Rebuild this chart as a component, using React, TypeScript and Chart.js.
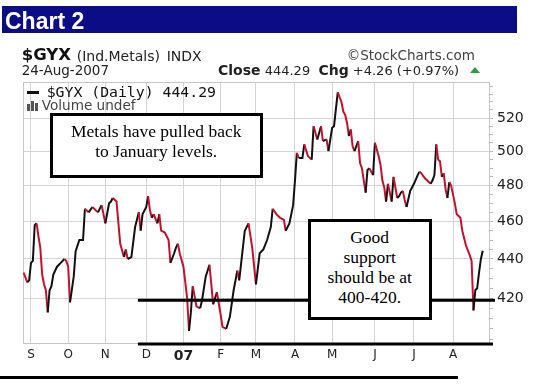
import React, { useEffect, useRef } from "react";
import { Chart, registerables } from "chart.js";

Chart.register(...registerables);

// Trading-day index (0 = 28-Aug-2006) and daily close of $GYX
const DAYS = [
  0, 2, 3, 4, 5, 6, 7, 8, 9, 10, 11, 12, 13, 14, 15, 16, 18, 20, 22, 23, 24, 25, 27, 28, 30, 32, 33, 35, 37, 40,
  42, 44, 46, 47, 48, 49, 50, 52, 54, 55, 56, 58, 60, 62, 63, 64, 66, 67, 68, 69, 70, 72, 73, 74, 76, 78, 79, 81,
  82, 83, 84, 86, 87, 88, 89, 90, 91, 92, 93, 95, 96, 98, 100, 102, 104, 106, 107, 109, 111, 113, 115, 116, 119,
  121, 123, 125, 127, 129, 131, 133, 134, 136, 138, 140, 141, 143, 145, 146, 147, 148, 150, 151, 153, 155, 156,
  158, 160, 161, 163, 164, 166, 167, 169, 171, 172, 173, 174, 175, 176, 177, 178, 180, 181, 182, 184, 185, 186,
  188, 189, 191, 192, 193, 194, 195, 196, 198, 199, 201, 202, 203, 204, 205, 206, 208, 210, 212, 213, 214, 216,
  218, 219, 220, 221, 222, 223, 224, 225, 226, 227, 228, 229, 230, 232, 233, 235, 236, 237, 238, 240, 241, 242,
  243, 244, 245, 246, 247,
];
const CLOSES = [
  433, 428, 429, 438, 439, 458, 459, 452, 446, 432, 427, 424, 413, 424, 426, 432, 436, 438, 440, 439, 436, 418, 431,
  444, 450, 450, 467, 465, 468, 465, 469, 459, 470, 471, 473, 472, 471, 448, 441, 445, 440, 441, 457, 465, 455, 464,
  468, 474, 466, 462, 464, 459, 464, 455, 454, 450, 438, 443, 446, 448, 443, 436, 428, 420, 404, 413, 426, 421, 416,
  415, 419, 431, 437, 417, 423, 412, 406, 405, 411, 424, 434, 429, 455, 459, 446, 427, 443, 445, 450, 457, 467, 464,
  462, 461, 455, 459, 469, 483, 499, 496, 496, 504, 497, 495, 515, 507, 515, 506, 507, 500, 514, 515, 536, 530, 524,
  522, 517, 509, 513, 503, 500, 506, 493, 490, 476, 489, 490, 486, 505, 497, 492, 483, 479, 471, 481, 471, 485, 473,
  474, 476, 477, 472, 468, 477, 481, 486, 488, 487, 484, 482, 481, 483, 486, 504, 495, 494, 485, 487, 478, 473, 482,
  480, 470, 464, 462, 455, 451, 447, 442, 439, 414, 424, 425, 433, 440.03, 444.29,
];

const MONTH_TICK_DAYS = [4, 24, 44, 66, 86, 106, 125, 146, 166, 189, 210, 231];
const MONTH_LABELS = ["S", "O", "N", "D", "07", "F", "M", "A", "M", "J", "J", "A"];
const Y_LABELS = [420, 440, 460, 480, 500, 520];
const Y_MINOR_TICKS = [
  400, 405, 410, 415, 420, 425, 430, 435, 440, 445, 450, 455, 460, 465, 470, 475, 480, 485, 490, 495, 500, 505, 510,
  515, 520, 525, 530, 535, 540,
];
const X_MIN = -0.3;
const X_MAX = 250.9;
const Y_MIN = 398.3;
const Y_MAX = 542.7;
const SUPPORT_LEVEL = 419;
const SUPPORT_FROM_DAY = 61.5;

const UP_COLOR = "#111111";
const DOWN_COLOR = "#c8102e";
const GRID = "#d4d4d4";

const framePlugin = {
  id: "frame",
  beforeDatasetsDraw(chart: any) {
    const { ctx, chartArea: a } = chart;
    ctx.save();
    ctx.strokeStyle = "#c6c6c6";
    ctx.lineWidth = 1;
    ctx.strokeRect(a.left + 0.5, a.top + 0.5, a.right - a.left - 1, a.bottom - a.top);
    ctx.restore();
  },
};

const supportPlugin = {
  id: "support",
  afterDatasetsDraw(chart: any) {
    const { ctx, chartArea: a, scales } = chart;
    const x0 = scales.x.getPixelForValue(SUPPORT_FROM_DAY);
    const y = scales.y.getPixelForValue(SUPPORT_LEVEL);
    ctx.save();
    ctx.fillStyle = "#000";
    ctx.fillRect(x0, y - 1.5, a.right + 5 - x0, 3);
    ctx.fillRect(x0, a.bottom - 0.5, a.right + 3 - x0, 3);
    ctx.restore();
  },
};

type TProps = {
  x: number;
  base: number;
  size: number;
  family?: string;
  weight?: string | number;
  color?: string;
  children: React.ReactNode;
  width?: number;
  align?: "left" | "center";
  factor?: number;
};

function T({ x, base, size, family = "'DejaVu Sans'", weight = "normal", color = "#111", children, width, align = "left", factor = 0.846 }: TProps) {
  return (
    <div
      style={{
        position: "absolute",
        left: x,
        top: base - factor * size,
        fontSize: size,
        lineHeight: `${size}px`,
        fontFamily: family,
        fontWeight: weight as any,
        color,
        whiteSpace: "pre",
        width,
        textAlign: align,
      }}
    >
      {children}
    </div>
  );
}

const SERIF = "'Liberation Serif', 'Times New Roman', serif";

export default function App() {
  const canvasRef = useRef<HTMLCanvasElement | null>(null);

  useEffect(() => {
    const canvas = canvasRef.current;
    if (!canvas) return;
    const points = DAYS.map((d, i) => ({ x: d, y: CLOSES[i] }));
    const chart = new Chart(canvas, {
      type: "line",
      data: {
        datasets: [
          {
            label: "$GYX",
            data: points,
            borderWidth: 2,
            pointRadius: 0,
            tension: 0,
            borderColor: UP_COLOR,
            segment: {
              borderColor: (c: any) => (c.p1.parsed.y >= c.p0.parsed.y ? UP_COLOR : DOWN_COLOR),
            },
          },
        ],
      },
      options: {
        animation: false,
        responsive: false,
        devicePixelRatio: 1,
        layout: { padding: { left: 23, top: 82, right: 0, bottom: 25 } },
        plugins: { legend: { display: false }, tooltip: { enabled: false } },
        scales: {
          x: {
            type: "linear",
            min: X_MIN,
            max: X_MAX,
            afterBuildTicks: (s: any) => {
              s.ticks = MONTH_TICK_DAYS.map((v) => ({ value: v }));
            },
            afterFit: (s: any) => {
              s.height = 22;
            },
            grid: { color: GRID, tickLength: 0, lineWidth: 1 },
            border: { display: false },
            ticks: {
              autoSkip: false,
              maxRotation: 0,
              padding: 5,
              color: "#222",
              callback: (_v: any, i: number) => MONTH_LABELS[i],
              font: (c: any) =>
                c.index === 4
                  ? { family: "'DejaVu Sans'", size: 14, weight: "bold" }
                  : { family: "'DejaVu Sans'", size: 12 },
            },
          },
          y: {
            type: "logarithmic",
            position: "right",
            min: Y_MIN,
            max: Y_MAX,
            afterBuildTicks: (s: any) => {
              s.ticks = Y_MINOR_TICKS.map((v) => ({ value: v }));
            },
            afterFit: (s: any) => {
              s.width = 47;
            },
            grid: {
              color: (c: any) => (c.tick && Y_LABELS.includes(c.tick.value) ? GRID : "rgba(0,0,0,0)"),
              tickColor: "#bbbbbb",
              tickLength: 3,
              lineWidth: 1,
            },
            border: { display: false },
            ticks: {
              autoSkip: false,
              padding: 4,
              color: "#222",
              font: { family: "'DejaVu Sans'", size: 14 },
              callback: (v: any) => (Y_LABELS.includes(Number(v)) ? String(v) : ""),
            },
          },
        },
      },
      plugins: [framePlugin, supportPlugin],
    } as any);
    return () => chart.destroy();
  }, []);

  return (
    <div
      style={{
        position: "absolute",
        left: 0,
        top: 0,
        width: 537,
        height: 390,
        background: "#fff",
        overflow: "hidden",
      }}
    >
      <canvas ref={canvasRef} width={537} height={390} style={{ position: "absolute", left: 0, top: 0 }} />

      {/* title bar */}
      <div style={{ position: "absolute", left: 2, top: 6, width: 515, height: 27, background: "#0c0c86" }} />
      <T x={5} base={29} size={23} family="'Liberation Sans', Arial, sans-serif" weight="bold" color="#fff">
        Chart 2
      </T>

      {/* header */}
      <T x={21.7} base={60.7} size={16.5} weight="bold">
        $GYX
      </T>
      <T x={76.7} base={60.5} size={14} color="#222">
        (Ind.Metals)
      </T>
      <T x={166.7} base={60.5} size={14} color="#222">
        INDX
      </T>
      <T x={346.7} base={60.5} size={13.5} color="#444">
        ©StockCharts.com
      </T>
      <T x={21.7} base={75} size={13.5} color="#222">
        24-Aug-2007
      </T>
      <div
        style={{
          position: "absolute",
          left: 218,
          top: 75 - 0.846 * 13,
          fontSize: 13,
          lineHeight: "13px",
          fontFamily: "'DejaVu Sans'",
          color: "#222",
          whiteSpace: "pre",
        }}
      >
        <span style={{ fontWeight: "bold", fontSize: 14 }}>Close</span> 444.29{"  "}
        <span style={{ fontWeight: "bold", fontSize: 14 }}>Chg</span> +4.26 (+0.97%)
      </div>
      <div
        style={{
          position: "absolute",
          left: 470,
          top: 67,
          width: 0,
          height: 0,
          borderLeft: "5px solid transparent",
          borderRight: "5px solid transparent",
          borderBottom: "6px solid #2e9e3a",
        }}
      />

      {/* in-chart legend */}
      <div style={{ position: "absolute", left: 27, top: 90.5, width: 12, height: 3, background: "#111" }} />
      <T x={46.7} base={98} size={14.8} family="'DejaVu Sans Mono'" color="#111">
        $GYX (Daily) 444.29
      </T>
      <div style={{ position: "absolute", left: 27, top: 104, width: 3, height: 7, background: "#555" }} />
      <div style={{ position: "absolute", left: 31, top: 101, width: 3, height: 10, background: "#555" }} />
      <div style={{ position: "absolute", left: 35, top: 103, width: 3, height: 8, background: "#555" }} />
      <T x={41.7} base={110.5} size={13.6} color="#444">
        Volume undef
      </T>

      {/* annotation box 1 */}
      <div
        style={{
          position: "absolute",
          left: 49.5,
          top: 113,
          width: 213.5,
          height: 65,
          border: "3px solid #000",
          boxSizing: "border-box",
          background: "#fff",
        }}
      />
      <T x={49.5} width={213.5} align="center" base={138} size={17.5} family={SERIF} factor={0.8375} color="#000">
        Metals have pulled back
      </T>
      <T x={49.5} width={213.5} align="center" base={158} size={17.5} family={SERIF} factor={0.8375} color="#000">
        to January levels.
      </T>

      {/* annotation box 2 */}
      <div
        style={{
          position: "absolute",
          left: 307.7,
          top: 219,
          width: 124,
          height: 101,
          border: "3px solid #000",
          boxSizing: "border-box",
          background: "#fff",
        }}
      />
      <T x={307.7} width={124} align="center" base={243.6} size={17.5} family={SERIF} factor={0.8375} color="#000">
        Good
      </T>
      <T x={307.7} width={124} align="center" base={263.6} size={17.5} family={SERIF} factor={0.8375} color="#000">
        support
      </T>
      <T x={307.7} width={124} align="center" base={283.6} size={17.5} family={SERIF} factor={0.8375} color="#000">
        should be at
      </T>
      <T x={307.7} width={124} align="center" base={303.6} size={17.5} family={SERIF} factor={0.8375} color="#000">
        400-420.
      </T>

      {/* bottom rule */}
      <div style={{ position: "absolute", left: 0, top: 376, width: 458, height: 3, background: "#000" }} />
    </div>
  );
}
